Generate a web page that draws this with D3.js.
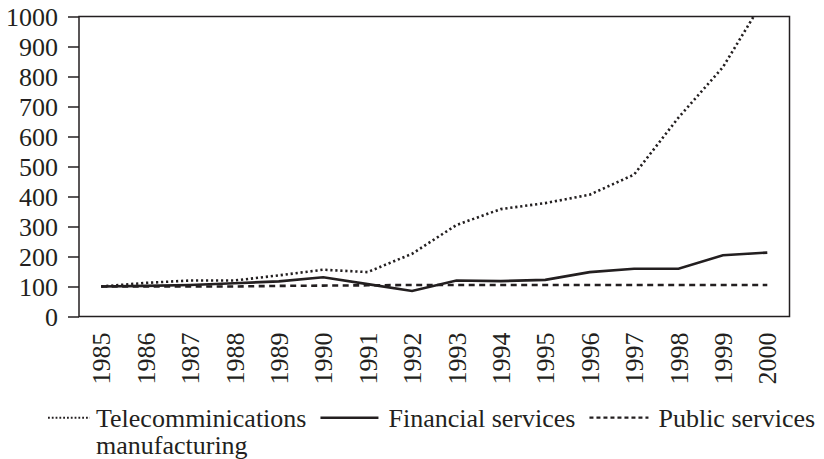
<!DOCTYPE html>
<html>
<head>
<meta charset="utf-8">
<script src="https://cdn.jsdelivr.net/npm/d3@7"></script>
<style>
  body { margin: 0; background: #fff; }
  text { font-family: "Liberation Serif", "Times New Roman", serif; fill: #231f20; }
</style>
</head>
<body>
<div id="myChart"></div>
<script>
// Data (index, 1985 = 100)
let years = ["1985", "1986", "1987", "1988", "1989", "1990", "1991", "1992",
  "1993", "1994", "1995", "1996", "1997", "1998", "1999", "2000"];
let telecom = [100, 112, 120, 120, 137, 156, 148, 209, 305, 358, 378, 406, 473, 663, 831, 1075];
let financial = [100, 102, 105, 111, 117, 131, 108, 85, 120, 118, 122, 148, 159, 159, 204, 213];
let publicServices = [100, 100, 100, 100, 102, 103, 104, 105, 105, 105, 105, 105, 105, 105, 105, 105];
let yTicks = [0, 100, 200, 300, 400, 500, 600, 700, 800, 900, 1000];
let seriesNames = [["Telecomminications", "manufacturing"], ["Financial services"], ["Public services"]];

let ink = "#231f20";

// Set dimensions and margins of the graph
let margin = { top: 16.5, right: 34.5, bottom: 145, left: 79 },
  width = 824 - margin.left - margin.right,
  height = 459 - margin.top - margin.bottom + 2.5;

let svg = d3
  .select("#myChart")
  .append("svg")
  .attr("width", 824)
  .attr("height", 459)
  .append("g")
  .attr("transform", `translate(${margin.left}, ${margin.top})`);

let x = d3.scalePoint().domain(years).range([0, width]).padding(0.5);
let y = d3.scaleLinear().domain([0, 1000]).range([height, 0]);

svg.append("clipPath")
  .attr("id", "plotClip")
  .append("rect")
  .attr("x", 0)
  .attr("y", 0)
  .attr("width", width)
  .attr("height", height);

// Y axis with outward ticks
let yAxis = svg
  .append("g")
  .call(
    d3
      .axisLeft(y)
      .tickValues(yTicks)
      .tickFormat(d3.format("d")) // no thousands comma
      .tickSize(11)
      .tickSizeOuter(0)
      .tickPadding(10)
  );

yAxis.select(".domain").remove();
yAxis.selectAll(".tick line").attr("stroke", ink).attr("stroke-width", 1.5);
yAxis
  .selectAll(".tick text")
  .style("font-size", "26px")
  .attr("fill", ink)
  .attr("dy", "0.34em");

// X axis: rotated year labels, no tick marks
let xAxis = svg
  .append("g")
  .attr("transform", `translate(0,${height})`)
  .call(d3.axisBottom(x).tickSize(0).tickSizeOuter(0));

xAxis.select(".domain").remove();
xAxis
  .selectAll(".tick text")
  .style("font-size", "26px")
  .attr("fill", ink)
  .style("text-anchor", "end")
  .attr("transform", "rotate(-90)")
  .attr("x", -16)
  .attr("y", 0)
  .attr("dy", "0.33em");

// Plot frame
svg
  .append("rect")
  .attr("x", 0)
  .attr("y", 0)
  .attr("width", width)
  .attr("height", height)
  .attr("fill", "none")
  .attr("stroke", ink)
  .attr("stroke-width", 1.5);

let lineStyles = [
  { values: telecom, dash: "2.2,2.8", w: 2.6 },
  { values: financial, dash: null, w: 2.6 },
  { values: publicServices, dash: "6,4.5", w: 2.6 },
];

let line = d3
  .line()
  .x((d, i) => x(years[i]))
  .y((d) => y(d));

svg
  .append("g")
  .attr("clip-path", "url(#plotClip)")
  .selectAll(".line")
  .data(lineStyles)
  .enter()
  .append("path")
  .attr("class", "line")
  .attr("d", (d) => line(d.values))
  .attr("fill", "none")
  .attr("stroke", ink)
  .attr("stroke-width", (d) => d.w)
  .attr("stroke-dasharray", (d) => d.dash);

// Legend, items laid out one after another
let legendY = 417.7 - margin.top;
let sampleLen = [42, 58, 59];
let sampleDash = ["1.8,2", null, "4,3"];
let sampleW = [2, 2.6, 2.2];
let cursor = 48 - margin.left;

seriesNames.forEach((names, i) => {
  svg
    .append("line")
    .attr("x1", cursor)
    .attr("x2", cursor + sampleLen[i])
    .attr("y1", legendY)
    .attr("y2", legendY)
    .attr("stroke", ink)
    .attr("stroke-width", sampleW[i])
    .attr("stroke-dasharray", sampleDash[i]);
  cursor += sampleLen[i] + (i === 0 ? 6 : 10);

  let t = svg
    .append("text")
    .attr("x", cursor)
    .attr("y", 427.3 - margin.top)
    .style("font-size", "26px");

  t.selectAll("tspan")
    .data(names)
    .enter()
    .append("tspan")
    .attr("x", cursor)
    .attr("dy", (d, j) => (j === 0 ? 0 : "1.04em"))
    .text((d) => d);

  let firstLen = t.select("tspan").node().getComputedTextLength();
  cursor += firstLen + 14;
});
</script>
</body>
</html>
